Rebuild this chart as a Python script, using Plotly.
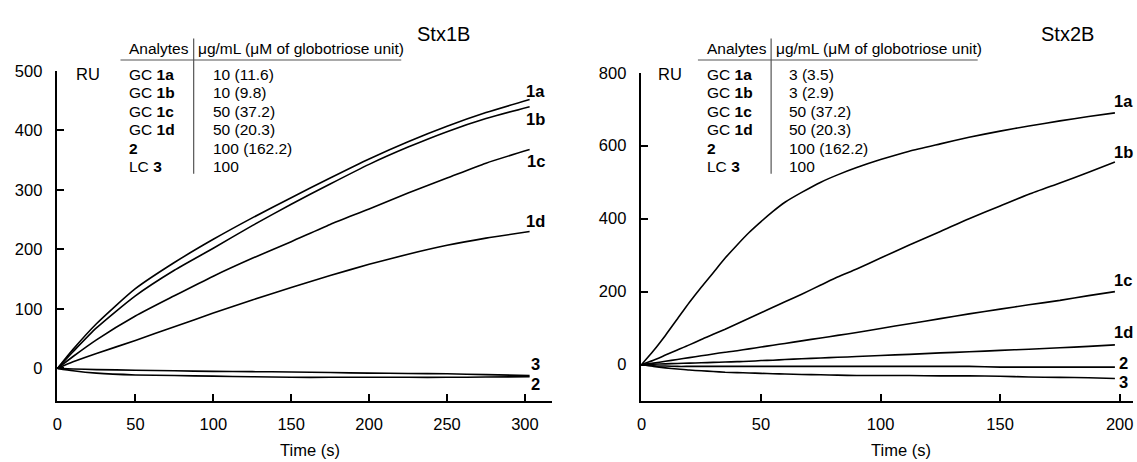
import plotly.graph_objects as go

W, H = 1137, 462
FONT = "Arial, Liberation Sans, sans-serif"

# ---------------- data: Stx1B (left) ----------------
t_left = [0, 10, 25, 50, 75, 100, 125, 150, 175, 200, 225, 250, 275, 303]
left_1a = [0, 32, 75, 134, 178, 217, 253, 287, 320, 352, 381, 407, 430, 452]
left_1b = [0, 28, 68, 122, 165, 202, 240, 276, 310, 343, 372, 398, 420, 440]
left_1c = [0, 20, 48, 88, 122, 155, 185, 213, 242, 268, 295, 320, 345, 368]
left_1d = [0, 11, 25, 47, 70, 93, 115, 136, 156, 175, 192, 207, 219, 230]
left_2 = [0, -4, -8, -11, -12, -13, -14, -15, -15, -15, -15, -15, -14.5, -14]
left_3 = [0, -1, -2, -3, -4, -5, -5.5, -6, -7, -8, -8.5, -9, -10.5, -12]

# ---------------- data: Stx2B (right) ----------------
t_right = [0, 5, 10, 15, 20, 25, 30, 35, 40, 45, 50, 55, 60, 67, 75, 82, 90, 100, 112, 125, 137, 150, 162, 175, 187, 198]
right_1a = [0, 38, 80, 125, 170, 212, 252, 292, 328, 362, 392, 420, 445, 472, 500, 520, 540, 562, 585, 605, 623, 640, 654, 668, 680, 690]
right_1b = [0, 12, 26, 40, 54, 69, 83, 97, 112, 127, 142, 157, 172, 193, 218, 240, 262, 292, 328, 365, 400, 435, 467, 498, 527, 555]
right_1c = [0, 4, 9, 14, 19, 24, 29, 34, 38, 43, 48, 53, 58, 65, 73, 80, 88, 99, 112, 126, 139, 152, 164, 176, 189, 200]
right_1d = [0, 1, 2, 3, 4, 5, 6, 7, 8, 9, 11, 12, 14, 16, 18, 20, 22, 25, 28, 32, 35, 39, 42, 46, 50, 54]
right_2 = [0, -3, -4, -5, -5, -5, -5, -5, -5, -5, -5, -5, -5, -5, -5, -5, -5, -5, -5, -5, -5, -7, -7, -7, -7, -7]
right_3 = [0, -5, -9, -12, -15, -17, -19, -21, -22, -23, -24, -25, -26, -27, -28, -29, -30, -30, -30, -31, -31, -32, -34, -35, -36, -38]

series_names = ["1a", "1b", "1c", "1d", "2", "3"]
left_series = [left_1a, left_1b, left_1c, left_1d, left_2, left_3]
right_series = [right_1a, right_1b, right_1c, right_1d, right_2, right_3]

# curve-end label positions (data units)
left_label_y = [467, 420, 349, 248, -27, 8]
right_label_y = [722, 582, 232, 88, 3, -47]
left_label_x = 307
right_label_x = 201.5

# ---------------- table text ----------------
analytes = ["GC <b>1a</b>", "GC <b>1b</b>", "GC <b>1c</b>", "GC <b>1d</b>", "<b>2</b>", "LC <b>3</b>"]
conc_left = ["10 (11.6)", "10 (9.8)", "50 (37.2)", "50 (20.3)", "100 (162.2)", "100"]
conc_right = ["3 (3.5)", "3 (2.9)", "50 (37.2)", "50 (20.3)", "100 (162.2)", "100"]
header_1 = "Analytes"
header_2 = "\u03bcg/mL (\u03bcM of globotriose unit)"

y_ticks_left = [0, 100, 200, 300, 400, 500]
y_ticks_right = [0, 200, 400, 600, 800]
x_ticks_left = [0, 50, 100, 150, 200, 250, 300]
x_ticks_right = [0, 50, 100, 150, 200]


def px(x):
    return x / W


def py(y):
    return 1 - y / H


fig = go.Figure()
for name, ys in zip(series_names, left_series):
    fig.add_trace(go.Scatter(x=t_left, y=ys, mode="lines", name=name,
                             line=dict(color="black", width=1.6, shape="spline", smoothing=0.6),
                             xaxis="x", yaxis="y", showlegend=False))
for name, ys in zip(series_names, right_series):
    fig.add_trace(go.Scatter(x=t_right, y=ys, mode="lines", name=name,
                             line=dict(color="black", width=1.6, shape="spline", smoothing=0.6),
                             xaxis="x2", yaxis="y2", showlegend=False))

axis_common = dict(showline=True, linecolor="black", linewidth=1.6, ticks="inside",
                   ticklen=7, tickwidth=1.6, tickcolor="black", showgrid=False,
                   zeroline=False, mirror=False,
                   tickfont=dict(family=FONT, size=16.5, color="black"))

fig.update_layout(
    width=W, height=H, margin=dict(l=0, r=0, t=0, b=0),
    paper_bgcolor="white", plot_bgcolor="white",
    xaxis=dict(domain=[px(52.7), px(549)], range=[0, 317.1], tickvals=x_ticks_left,
               anchor="y", ticklabelstandoff=8, **axis_common),
    yaxis=dict(domain=[py(399.3), py(63.2)], range=[-54, 500], tickvals=y_ticks_left,
               anchor="x", ticklabelstandoff=10, **axis_common),
    xaxis2=dict(domain=[px(639.3), px(1133.3)], range=[0, 205.7], tickvals=x_ticks_right,
                anchor="y2", ticklabelstandoff=8, **axis_common),
    yaxis2=dict(domain=[py(399.3), py(65)], range=[-98.5, 800], tickvals=y_ticks_right,
                anchor="x2", ticklabelstandoff=10, **axis_common),
)

ann = []
shapes = []


def txt(x, y, s, size=15.5, anchor="left"):
    ann.append(dict(x=px(x), y=py(y), xref="paper", yref="paper", text=s,
                    showarrow=False, xanchor=anchor, yanchor="middle",
                    font=dict(family=FONT, size=size, color="black")))


row_y = [67, 85.5, 104.5, 123, 142, 161]
for dx in (0, 580):
    txt(123 + dx, 40, header_1)
    txt(192 + dx, 40, header_2)
    shapes.append(dict(type="line", xref="paper", yref="paper",
                       x0=px(116 + dx), x1=px(398 + dx if dx == 0 else 977),
                       y0=py(52), y1=py(52), line=dict(color="#555555", width=1.2)))
    shapes.append(dict(type="line", xref="paper", yref="paper",
                       x0=px(189.5 + dx), x1=px(189.5 + dx),
                       y0=py(30), y1=py(168), line=dict(color="#555555", width=1.2)))
    concs = conc_left if dx == 0 else conc_right
    for ry, a, c in zip(row_y, analytes, concs):
        txt(123 + dx, ry, a)
        txt(207 + dx if dx == 0 else 785, ry, c)

# RU labels
txt(83, 66, "RU", size=16.5, anchor="center")
txt(668, 66, "RU", size=16.5, anchor="center")
# titles
txt(440, 25, "Stx1B", size=20, anchor="center")
txt(1067, 25, "Stx2B", size=20, anchor="center")
# axis titles
txt(306, 450, "Time (s)", size=16.5, anchor="center")
txt(900, 450, "Time (s)", size=16.5, anchor="center")

# curve labels
for name, ly in zip(series_names, left_label_y):
    ann.append(dict(x=left_label_x, y=ly, xref="x", yref="y", text="<b>%s</b>" % name,
                    showarrow=False, xanchor="center", yanchor="middle",
                    font=dict(family=FONT, size=16.5, color="black")))
for name, ly in zip(series_names, right_label_y):
    ann.append(dict(x=right_label_x, y=ly, xref="x2", yref="y2", text="<b>%s</b>" % name,
                    showarrow=False, xanchor="center", yanchor="middle",
                    font=dict(family=FONT, size=16.5, color="black")))

fig.update_layout(annotations=ann, shapes=shapes)
fig.write_html("out.html", config={"displayModeBar": False},
               post_script="document.body.style.margin='0';document.body.style.overflow='hidden';")
